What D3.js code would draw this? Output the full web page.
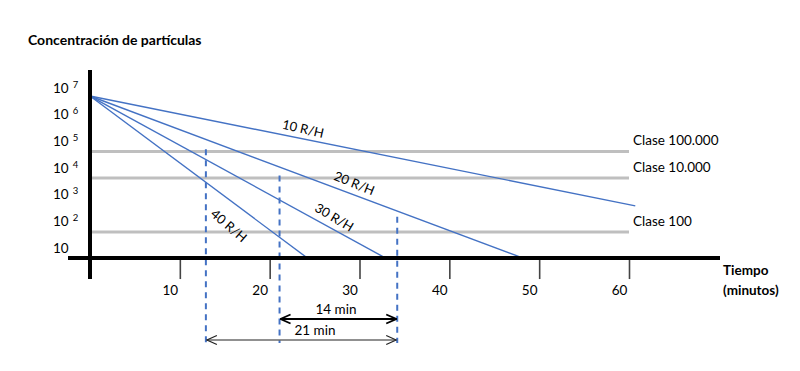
<!DOCTYPE html>
<html>
<head>
<meta charset="utf-8">
<script src="https://cdn.jsdelivr.net/npm/d3@7"></script>
<style>
  html, body { margin: 0; padding: 0; background: #fff; }
  svg { display: block; }
  text { font-family: Lato, "Open Sans", sans-serif; fill: #000; }
</style>
</head>
<body>
<svg id="chart" width="800" height="371"></svg>
<script>
// ---- data ----
const xTicks = [10, 20, 30, 40, 50, 60];
const yExponents = [1, 2, 3, 4, 5, 6, 7];
const startConc = 5.0e6;             // common starting concentration at t = 0
const rates = ["10 R/H", "20 R/H", "30 R/H", "40 R/H"];
const endTimes = [60.7, 48.2, 32.9, 24.2];   // minutes at the end of each line
const endConcs = [380, 4.2, 4.2, 4.2];       // concentration at end of each line
const classNames = ["Clase 100.000", "Clase 10.000", "Clase 100"];
const classLevels = [42000, 4200, 40];
const markTimes = [12.9, 21.1, 34.2];        // dashed vertical markers (minutes)
const markTops = [51000, 5200, 150];         // concentration at top of each marker
const intervals = [{label: "14 min", from: 1, to: 2}, {label: "21 min", from: 0, to: 2}];

// ---- layout ----
const svg = d3.select("#chart");
const x = d3.scaleLinear().domain([0, 60]).range([90, 629]);
const y = d3.scaleLog().domain([10, 1e7]).range([248, 88]);
const axisY = y(4.2);
const blue = "#4472c4";

// markers for arrows
const defs = svg.append("defs");
function chevron(id, w, color) {
  defs.append("marker").attr("id", id).attr("viewBox", "0 0 12 12")
    .attr("refX", 11).attr("refY", 6).attr("markerWidth", 12).attr("markerHeight", 12)
    .attr("markerUnits", "userSpaceOnUse").attr("orient", "auto-start-reverse")
    .append("path").attr("d", "M1,1.5 L11,6 L1,10.5").attr("fill", "none")
    .attr("stroke", color).attr("stroke-width", w);
}
chevron("arrA", 1.8, "#000");
chevron("arrB", 1.3, "#222");

// title
svg.append("text").attr("x", 28).attr("y", 45).attr("font-size", 14).attr("font-weight", "bold")
  .text("Concentración de partículas");

// class threshold lines
svg.append("g").selectAll("line").data(classLevels).join("line")
  .attr("x1", 92).attr("x2", x(60)).attr("y1", d => y(d)).attr("y2", d => y(d))
  .attr("stroke", "#bfbfbf").attr("stroke-width", 3);
svg.append("g").selectAll("text").data(classNames).join("text")
  .attr("x", 633).attr("y", (d, i) => y(classLevels[i]) - 11).attr("dy", "0.35em")
  .attr("font-size", 13.5).text(d => d);

// decay lines
const lineGen = d3.line().x(d => x(d[0])).y(d => y(d[1]));
svg.append("g").selectAll("path").data(rates).join("path")
  .attr("d", (d, i) => lineGen([[0, startConc], [endTimes[i], endConcs[i]]]))
  .attr("fill", "none").attr("stroke", blue).attr("stroke-width", 1.4);

// rate labels along lines
const labelT = [23.5, 29.0, 26.6, 16.85];
const labelOff = [-10, -11, -11, 21];
const labelExtra = [1.5, 1.5, 2, 4];
rates.forEach((r, i) => {
  const x0 = x(0), y0 = y(startConc), x1 = x(endTimes[i]), y1 = y(endConcs[i]);
  const ang = Math.atan2(y1 - y0, x1 - x0) * 180 / Math.PI;
  const px = x(labelT[i]);
  const py = y0 + (y1 - y0) * (px - x0) / (x1 - x0);
  svg.append("text")
    .attr("transform", `translate(${px},${py}) rotate(${ang}) translate(0,${labelOff[i]}) rotate(${labelExtra[i]})`)
    .attr("text-anchor", "middle").attr("dy", "0.35em").attr("font-size", 13).text(r);
});

// dashed markers
const arrowY = [319, 340];
const markBottom = arrowY[1] + 3;
svg.append("g").selectAll("line").data(markTimes).join("line")
  .attr("x1", d => x(d)).attr("x2", d => x(d))
  .attr("y1", (d, i) => y(markTops[i])).attr("y2", markBottom)
  .attr("stroke", blue).attr("stroke-width", 2).attr("stroke-dasharray", "6,5");

// axes
const xAxis = d3.axisBottom(x).tickValues(xTicks).tickSize(21).tickPadding(-4).tickFormat(d3.format("d"));
const gx = svg.append("g").attr("transform", `translate(0,${axisY})`).call(xAxis);
gx.select(".domain").remove();
gx.selectAll(".tick line").attr("stroke", "#444").attr("stroke-width", 1.6);
gx.selectAll(".tick text").attr("font-size", 13.5).attr("font-family", "Lato, sans-serif")
  .attr("x", -10).attr("y", 27).attr("fill", "#000");
svg.append("line").attr("x1", 68).attr("x2", 720).attr("y1", axisY).attr("y2", axisY)
  .attr("stroke", "#000").attr("stroke-width", 4);
svg.append("line").attr("x1", x(0)).attr("x2", x(0)).attr("y1", 70).attr("y2", 279)
  .attr("stroke", "#000").attr("stroke-width", 4);

// y tick labels (10^n)
const yl = svg.append("g").selectAll("text").data(yExponents).join("text")
  .attr("x", 53).attr("y", d => y(Math.pow(10, d))).attr("dy", "0.35em").attr("font-size", 13.5);
yl.append("tspan").text("10");
yl.filter(d => d > 1).append("tspan").attr("dx", 4).attr("dy", "-0.55em").attr("font-size", 9.5)
  .text(d => d);

// axis title
const tt = svg.append("text").attr("x", 723).attr("font-size", 13.5).attr("font-weight", "bold");
tt.append("tspan").attr("x", 723).attr("y", 275).text("Tiempo");
tt.append("tspan").attr("x", 723).attr("y", 295).text("(minutos)");

// interval arrows
intervals.forEach((iv, k) => {
  svg.append("line").attr("x1", x(markTimes[iv.from]) + 1).attr("x2", x(markTimes[iv.to]) - 1)
    .attr("y1", arrowY[k]).attr("y2", arrowY[k])
    .attr("stroke", k === 0 ? "#000" : "#222").attr("stroke-width", k === 0 ? 2 : 1.2)
    .attr("marker-start", `url(#${k === 0 ? "arrA" : "arrB"})`)
    .attr("marker-end", `url(#${k === 0 ? "arrA" : "arrB"})`);
});
svg.append("text").attr("x", 336).attr("y", 314).attr("text-anchor", "middle").attr("font-size", 13.5).text(intervals[0].label);
svg.append("text").attr("x", 315).attr("y", 335).attr("text-anchor", "middle").attr("font-size", 13.5).text(intervals[1].label);
</script>
</body>
</html>
